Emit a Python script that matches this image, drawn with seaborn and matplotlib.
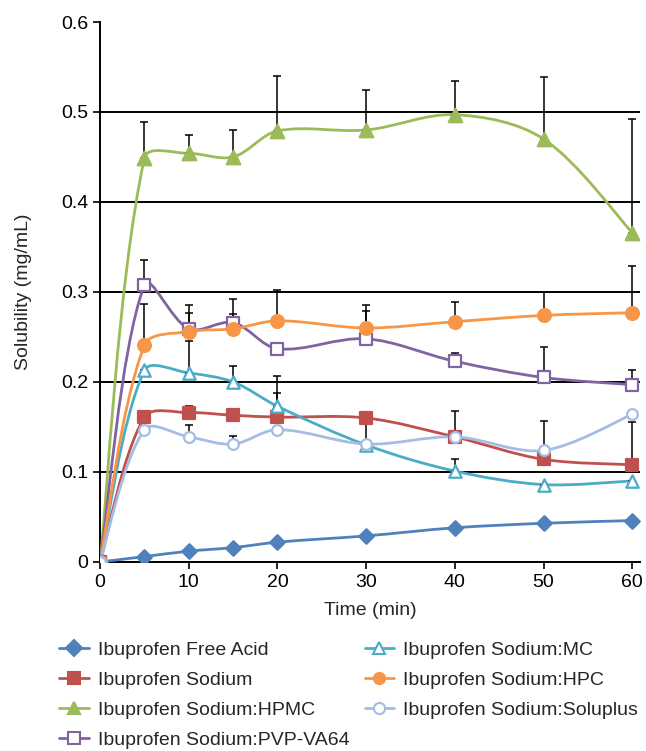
import numpy as np
import pandas as pd
import seaborn as sns
import matplotlib.pyplot as plt
from matplotlib.path import Path
from matplotlib.patches import PathPatch
from matplotlib.lines import Line2D

time = [0, 5, 10, 15, 20, 30, 40, 50, 60]

free_acid = [0, 0.006, 0.012, 0.016, 0.022, 0.029, 0.038, 0.043, 0.046]
sodium = [0, 0.161, 0.166, 0.163, 0.161, 0.160, 0.139, 0.114, 0.108]
hpmc = [0, 0.449, 0.454, 0.450, 0.479, 0.480, 0.497, 0.470, 0.366]
pvp_va64 = [0, 0.308, 0.259, 0.266, 0.237, 0.248, 0.223, 0.205, 0.197]
mc = [0, 0.213, 0.210, 0.200, 0.173, 0.130, 0.101, 0.086, 0.090]
hpc = [0, 0.241, 0.256, 0.259, 0.268, 0.260, 0.267, 0.274, 0.277]
soluplus = [0, 0.147, 0.139, 0.131, 0.147, 0.131, 0.139, 0.124, 0.164]

# upper error bars (SD); tiny ones hidden behind markers
free_acid_err = [0, 0, 0, 0, 0, 0, 0, 0, 0]
sodium_err = [0, 0, 0.007, 0, 0.027, 0, 0.029, 0.043, 0.047]
hpmc_err = [0, 0.040, 0.020, 0.030, 0.061, 0.045, 0.037, 0.069, 0.126]
pvp_va64_err = [0, 0.028, 0.018, 0.009, 0, 0.031, 0.009, 0.034, 0.016]
mc_err = [0, 0, 0.035, 0.018, 0.034, 0.030, 0.013, 0, 0]
hpc_err = [0, 0.046, 0.030, 0.033, 0.034, 0.026, 0.022, 0.026, 0.052]
soluplus_err = [0, 0, 0.013, 0.009, 0, 0, 0, 0, 0]

labels = [
    "Ibuprofen Free Acid",
    "Ibuprofen Sodium",
    "Ibuprofen Sodium:HPMC",
    "Ibuprofen Sodium:PVP-VA64",
    "Ibuprofen Sodium:MC",
    "Ibuprofen Sodium:HPC",
    "Ibuprofen Sodium:Soluplus",
]
values = [free_acid, sodium, hpmc, pvp_va64, mc, hpc, soluplus]
errors = [free_acid_err, sodium_err, hpmc_err, pvp_va64_err, mc_err, hpc_err, soluplus_err]
colors = ["#4f81bd", "#c0504d", "#9bbb59", "#8064a2", "#4bacc6", "#f79646", "#a5bde3"]
markers = ["D", "s", "^", "s", "^", "o", "o"]
filled = [True, True, True, False, False, True, False]
sizes = [55, 75, 95, 70, 80, 85, 60]

X_MAX, Y_MAX = 60.9, 0.6


def smooth_path(x, y, sx, sy):
    """Excel-like smoothed line: Bezier through the points, tangents scaled
    by segment lengths measured on screen (sx, sy = pixels per data unit)."""
    pts = np.column_stack([x, y]).astype(float)
    scr = pts * [sx, sy]
    n = len(pts)
    seg = np.hypot(*np.diff(scr, axis=0).T)
    verts = [pts[0]]
    codes = [Path.MOVETO]
    for i in range(n - 1):
        a, b = max(i - 1, 0), min(i + 2, n - 1)
        d_in = seg[i - 1] if i > 0 else seg[i]
        d_out = seg[i + 1] if i + 1 < n - 1 else seg[i]
        c1 = pts[i] + (pts[i + 1] - pts[a]) * seg[i] / (d_in + seg[i]) / 3
        c2 = pts[i + 1] - (pts[b] - pts[i]) * seg[i] / (seg[i] + d_out) / 3
        verts += [c1, c2, pts[i + 1]]
        codes += [Path.CURVE4] * 3
    return Path(verts, codes)


sns.set_style("white")
plt.rcParams["font.family"] = ["Liberation Sans", "DejaVu Sans"]

fig = plt.figure(figsize=(6.46, 7.51), dpi=100)
ax = fig.add_axes([0.155, 0.2517, 0.836, 0.719])
sx = ax.bbox.width / X_MAX
sy = ax.bbox.height / Y_MAX

for lab, val, err, col, mk, fl, sz in zip(labels, values, errors, colors, markers, filled, sizes):
    ax.add_patch(PathPatch(smooth_path(time, val, sx, sy), facecolor="none", edgecolor=col,
                           lw=2.0, zorder=3))
    ax.errorbar(time, val, yerr=[np.zeros(len(err)), err], fmt="none", ecolor="black",
                elinewidth=1.1, capsize=3, capthick=1.1, zorder=3.5)
    df = pd.DataFrame({"time": time, "value": val})
    sns.scatterplot(data=df, x="time", y="value", marker=mk, s=sz, color=col,
                    edgecolor=col, linewidth=1.6, ax=ax, zorder=4, legend=False)
    if not fl:
        ax.collections[-1].set_facecolor("white")

ax.set_xlim(0, X_MAX)
ax.set_ylim(0, Y_MAX)
ax.set_xticks(range(0, 61, 10))
ax.set_yticks([0, 0.1, 0.2, 0.3, 0.4, 0.5, 0.6])
ax.set_yticklabels(["0", "0.1", "0.2", "0.3", "0.4", "0.5", "0.6"])
ax.yaxis.grid(True, color="black", lw=1.4)
ax.get_ygridlines()[-1].set_visible(False)
ax.set_axisbelow(True)
for side in ["top", "right"]:
    ax.spines[side].set_visible(False)
for side in ["left", "bottom"]:
    ax.spines[side].set_color("black")
    ax.spines[side].set_linewidth(1.4)
ax.tick_params(axis="both", direction="out", length=5, width=1.2, colors="black",
               labelsize=14, left=True, bottom=True)
ax.set_xlabel("Time (min)", fontsize=14, labelpad=8)
ax.set_ylabel("Solubility (mg/mL)", fontsize=14, labelpad=21)

handles = [
    Line2D([], [], color=c, lw=2, marker=m, markersize=8, markeredgewidth=1.5,
           markerfacecolor=(c if f else "white"), markeredgecolor=c)
    for c, m, f in zip(colors, markers, filled)
]
fig.legend(handles, labels, loc="upper left", bbox_to_anchor=(0.071, 0.164), ncol=2,
           frameon=False, fontsize=14, handlelength=1.5, labelspacing=0.63,
           columnspacing=0.75, handletextpad=0.5, borderpad=0.2)

fig.savefig("out.png", dpi=100)
